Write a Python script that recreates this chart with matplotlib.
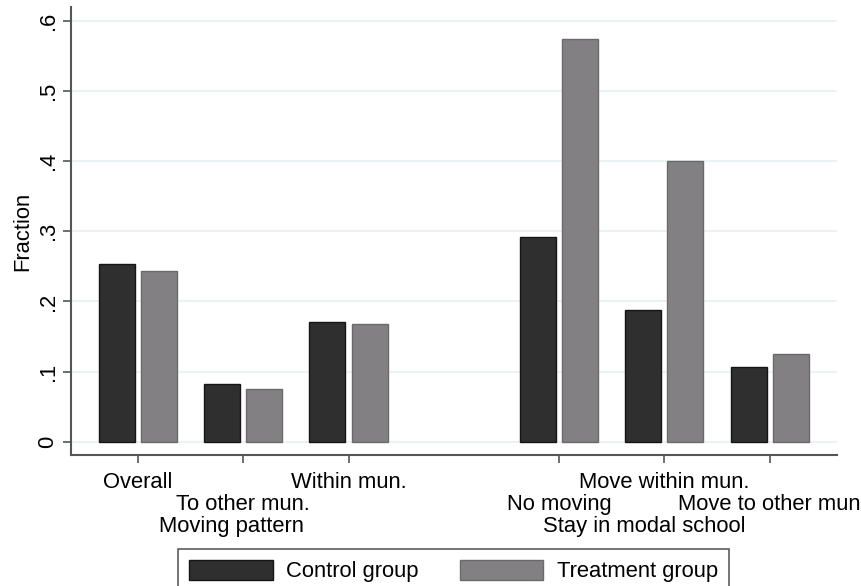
import matplotlib
matplotlib.use('Agg')
import matplotlib.pyplot as plt
import matplotlib.transforms as mtransforms

plt.rcParams['font.family'] = ['Liberation Sans', 'DejaVu Sans']

# data
positions = [0, 1, 2, 4, 5, 6]
control = [0.253, 0.082, 0.171, 0.292, 0.188, 0.107]
treatment = [0.244, 0.075, 0.168, 0.575, 0.401, 0.125]
row1 = {0: 'Overall', 2: 'Within mun.', 5: 'Move within mun.'}
row2 = {1: 'To other mun.', 4: 'No moving', 6: 'Move to other mun'}
supergroups = {0.89: 'Moving pattern', 4.81: 'Stay in modal school'}
yticks = [0, 0.1, 0.2, 0.3, 0.4, 0.5, 0.6]
ytick_labels = ['0', '.1', '.2', '.3', '.4', '.5', '.6']

fs = 15.8
c_ctrl = '#2f2f2f'
c_treat = '#828083'
w = 0.342
off = 0.2

fig = plt.figure(figsize=(8.61, 5.86), dpi=100)
ax = fig.add_axes([71 / 861, 1 - 455 / 586, (837 - 71) / 861, (455 - 7) / 586])

ax.set_axisbelow(True)
ax.grid(axis='y', color='#e8f0f2', linewidth=1.2)
ax.bar([p - off for p in positions], control, width=w, color=c_ctrl,
       edgecolor='#151515', linewidth=1, label='Control group')
ax.bar([p + off for p in positions], treatment, width=w, color=c_treat,
       edgecolor='#6a6a6a', linewidth=1, label='Treatment group')

ax.set_xlim(-0.636, 6.64)
ax.set_ylim(-0.019, 0.62)
ax.set_yticks(yticks)
ax.set_yticklabels(ytick_labels, rotation=90, va='center', fontsize=fs)
ax.set_xticks(positions)
ax.set_xticklabels([''] * len(positions))
ax.tick_params(axis='both', length=6, width=1.2, color='#555555', pad=3)
ax.set_ylabel('Fraction', fontsize=fs, labelpad=3)

for s in ['top', 'right']:
    ax.spines[s].set_visible(False)
for s in ['left', 'bottom']:
    ax.spines[s].set_color('#555555')
    ax.spines[s].set_linewidth(1.5)

trans = mtransforms.blended_transform_factory(ax.transData, ax.transAxes)
for x, lab in row1.items():
    ax.text(x, -0.0625, lab, transform=trans, ha='center', va='center', fontsize=fs)
for x, lab in row2.items():
    ax.text(x, -0.1116, lab, transform=trans, ha='center', va='center', fontsize=fs)
for x, lab in supergroups.items():
    ax.text(x, -0.1607, lab, transform=trans, ha='center', va='center', fontsize=fs)

leg = fig.legend(loc='upper center', bbox_to_anchor=(453.5 / 861, 1 - 549 / 586),
                 ncol=2, fontsize=fs, frameon=True, fancybox=False,
                 handlelength=3.8, handleheight=1.0, handletextpad=0.6,
                 columnspacing=1.9, borderpad=0.5, borderaxespad=0)
leg.get_frame().set_edgecolor('#333333')
leg.get_frame().set_linewidth(1.2)

fig.savefig('out.png', dpi=100)
